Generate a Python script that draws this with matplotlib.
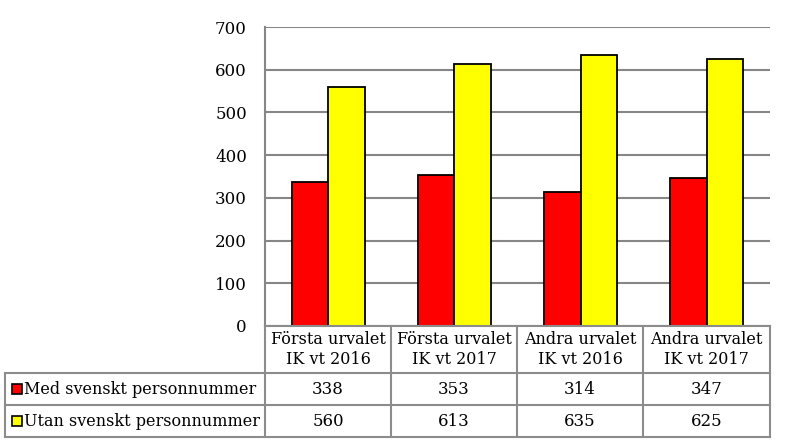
import numpy as np
import matplotlib.pyplot as plt

plt.rcParams['font.family'] = ['DejaVu Serif']

# data
kategorier = ["Första urvalet\nIK vt 2016", "Första urvalet\nIK vt 2017",
              "Andra urvalet\nIK vt 2016", "Andra urvalet\nIK vt 2017"]
serier = ["Med svenskt personnummer", "Utan svenskt personnummer"]
med = [338, 353, 314, 347]
utan = [560, 613, 635, 625]
farger = ["#FF0000", "#FFFF00"]

W, H = 797, 448
fig = plt.figure(figsize=(W/100, H/100), dpi=100)

# plot area in pixels
px_l, px_r, px_t, px_b = 265, 770, 27, 326
ax = fig.add_axes([px_l/W, 1-px_b/H, (px_r-px_l)/W, (px_b-px_t)/H])

grid_c = "#868686"
x = np.arange(len(kategorier))
bw = 0.29
ax.bar(x - bw/2, med, bw, color=farger[0], edgecolor="black", linewidth=1.3, zorder=3)
ax.bar(x + bw/2, utan, bw, color=farger[1], edgecolor="black", linewidth=1.3, zorder=3)
ax.set_xlim(-0.5, len(kategorier)-0.5)
ax.set_ylim(0, 700)
ax.set_yticks(np.arange(0, 701, 100))
ax.yaxis.grid(True, color=grid_c, linewidth=1.5, zorder=0)
ax.set_xticks([])
ax.tick_params(axis='y', length=0, labelsize=12, pad=13)
for s in ["top", "right", "bottom"]:
    ax.spines[s].set_visible(False)
ax.spines["left"].set_color(grid_c)
ax.spines["left"].set_linewidth(1.5)

# data table drawn in pixel coordinates
tab = fig.add_axes([0, 0, 1, 1])
tab.set_xlim(0, W)
tab.set_ylim(H, 0)
tab.axis('off')
kol = [265, 391, 517, 643, 770]
rad = [326, 373, 405, 437]
lc = "#8c8c8c"
for xv in kol:
    tab.plot([xv, xv], [rad[0], rad[-1]], color=lc, lw=1.5)
tab.plot([5, 5], [rad[1], rad[-1]], color=lc, lw=1.5)
tab.plot([kol[0], kol[-1]], [rad[0], rad[0]], color=lc, lw=1.5)
for yv in rad[1:]:
    tab.plot([5, kol[-1]], [yv, yv], color=lc, lw=1.5)

for i, k in enumerate(kategorier):
    cx = (kol[i] + kol[i+1]) / 2
    tab.text(cx, (rad[0]+rad[1])/2, k, ha='center', va='center', fontsize=11.5, linespacing=1.3)
    tab.text(cx, (rad[1]+rad[2])/2, str(med[i]), ha='center', va='center', fontsize=12)
    tab.text(cx, (rad[2]+rad[3])/2, str(utan[i]), ha='center', va='center', fontsize=12)

for j, (namn, f) in enumerate(zip(serier, farger)):
    yc = (rad[j+1] + rad[j+2]) / 2
    tab.add_patch(plt.Rectangle((12, yc-5), 10, 10, facecolor=f, edgecolor="black", lw=1.2))
    tab.text(24, yc, namn, ha='left', va='center', fontsize=11.5)

fig.savefig("out.png", dpi=100)
